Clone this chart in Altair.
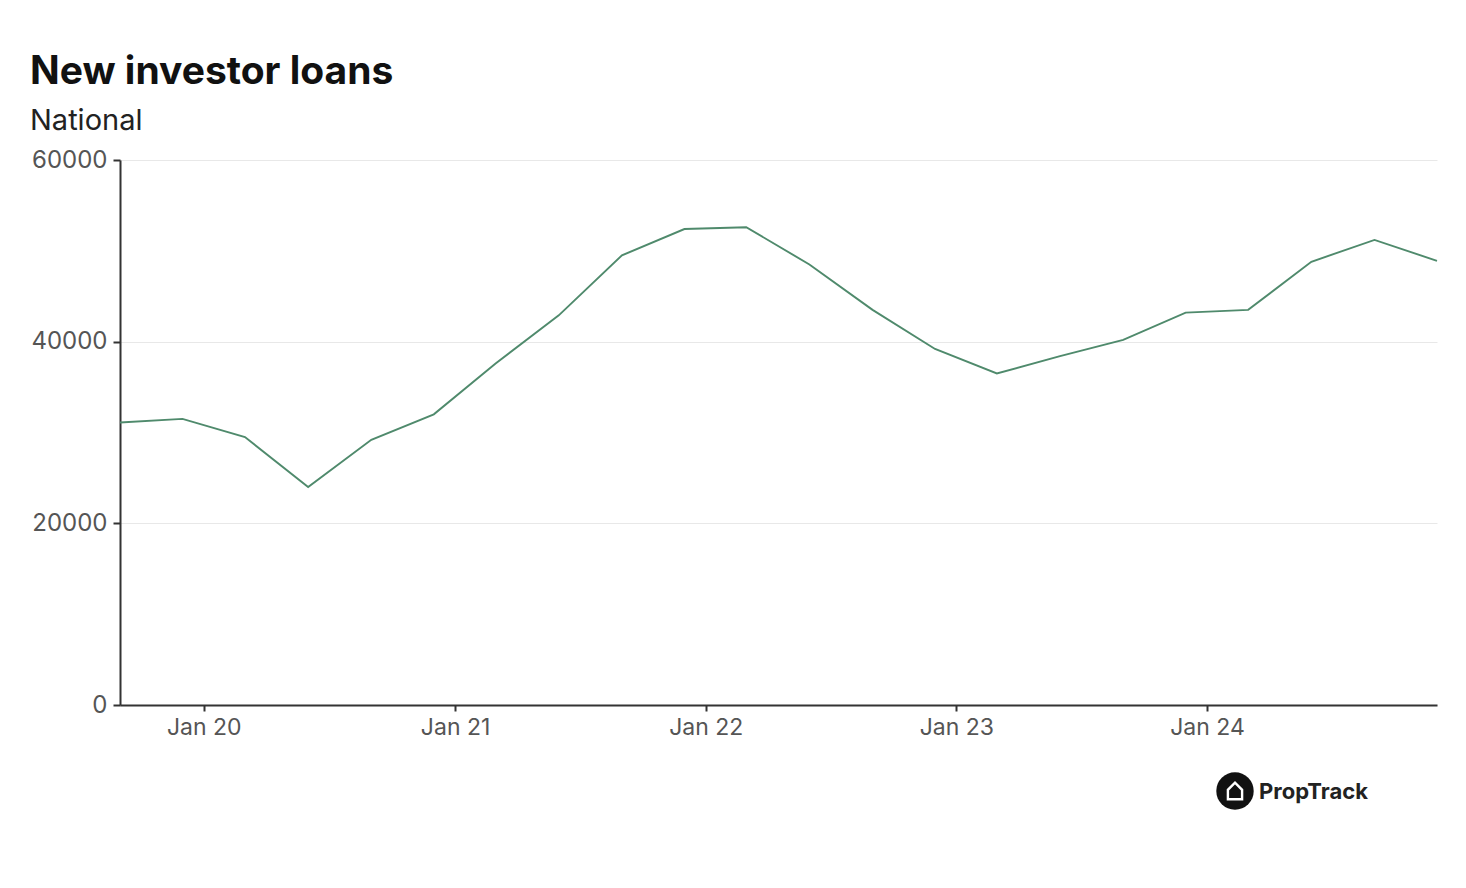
import altair as alt
import pandas as pd

# Quarterly new investor loans (national)
dates = [
    "2019-09-01", "2019-12-01", "2020-03-01", "2020-06-01", "2020-09-01", "2020-12-01",
    "2021-03-01", "2021-06-01", "2021-09-01", "2021-12-01", "2022-03-01", "2022-06-01",
    "2022-09-01", "2022-12-01", "2023-03-01", "2023-06-01", "2023-09-01", "2023-12-01",
    "2024-03-01", "2024-06-01", "2024-09-01", "2024-12-01",
]
loans = [
    31100, 31500, 29500, 24000, 29200, 32000,
    37600, 42900, 49500, 52400, 52600, 48500,
    43500, 39200, 36500, 38400, 40200, 43200,
    43500, 48800, 51200, 48900,
]
y_ticks = [0, 20000, 40000, 60000]
tick_years = [2020, 2021, 2022, 2023, 2024]
logo_text = ["PropTrack"]

df = pd.DataFrame({"date": dates, "loans": loans})

FONT = "Inter"
AXIS_DARK = "#333333"
LABEL = "#555555"

x_axis = alt.Axis(
    values=[alt.DateTime(year=y, month=1, date=1, utc=True) for y in tick_years],
    labelExpr="utcFormat(datum.value, '%b %y')",
    title=None,
    grid=False,
    domainColor=AXIS_DARK,
    domainWidth=2,
    tickColor=AXIS_DARK,
    tickWidth=2,
    tickSize=6,
    labelFont=FONT,
    labelFontSize=23,
    labelColor=LABEL,
    labelPadding=5,
)

y_axis = alt.Axis(
    values=y_ticks,
    format="d",
    title=None,
    grid=True,
    gridColor="#e8e8e8",
    gridWidth=1,
    domainColor=AXIS_DARK,
    domainWidth=2,
    tickColor=AXIS_DARK,
    tickWidth=2,
    tickSize=7,
    labelFont=FONT,
    labelFontSize=24,
    labelColor=LABEL,
    labelPadding=6,
)

line = alt.Chart(df).mark_line(color="#4f8a6c", strokeWidth=1.9).encode(
    x=alt.X(
        "date:T",
        scale=alt.Scale(
            type="utc",
            domain=[
                alt.DateTime(year=2019, month=9, date=1, utc=True),
                alt.DateTime(year=2024, month=12, date=1, utc=True),
            ],
        ),
        axis=x_axis,
    ),
    y=alt.Y("loans:Q", scale=alt.Scale(domain=[0, 60000], nice=False), axis=y_axis),
)

logo_df = pd.DataFrame({"t": logo_text})

logo_circle = alt.Chart(logo_df).mark_point(
    shape="circle", filled=True, color="#111111", size=1400, opacity=1
).encode(x=alt.value(1115), y=alt.value(631))

house_path = "M -0.6 0.7 L -0.6 -0.1 L 0 -0.7 L 0.6 -0.1 L 0.6 0.7 Z"
logo_house = alt.Chart(logo_df).mark_point(
    shape=house_path, filled=False, stroke="white", strokeWidth=2.4, size=560, opacity=1
).encode(x=alt.value(1115), y=alt.value(631))

logo_label = alt.Chart(logo_df).mark_text(
    font=FONT, fontSize=22, fontWeight="bold", color="#222222", align="left", baseline="middle"
).encode(x=alt.value(1139), y=alt.value(632), text="t:N")

chart = alt.layer(line, logo_circle, logo_house, logo_label).properties(
    width=1317,
    height=545,
    background="white",
    autosize=alt.AutoSizeParams(type="none"),
    padding={"left": 112, "top": 152, "right": 21, "bottom": 175},
    title=alt.TitleParams(
        text="New investor loans",
        subtitle="National",
        anchor="start",
        frame="group",
        dx=-90,
        offset=12,
        font=FONT,
        fontSize=39,
        fontWeight="bold",
        color="#111111",
        subtitleFont=FONT,
        subtitleFontSize=29,
        subtitleColor="#222222",
        subtitlePadding=15,
    ),
).configure_view(strokeWidth=0, stroke="transparent")

chart.save("out.html", embed_options={"renderer": "svg", "actions": False})
